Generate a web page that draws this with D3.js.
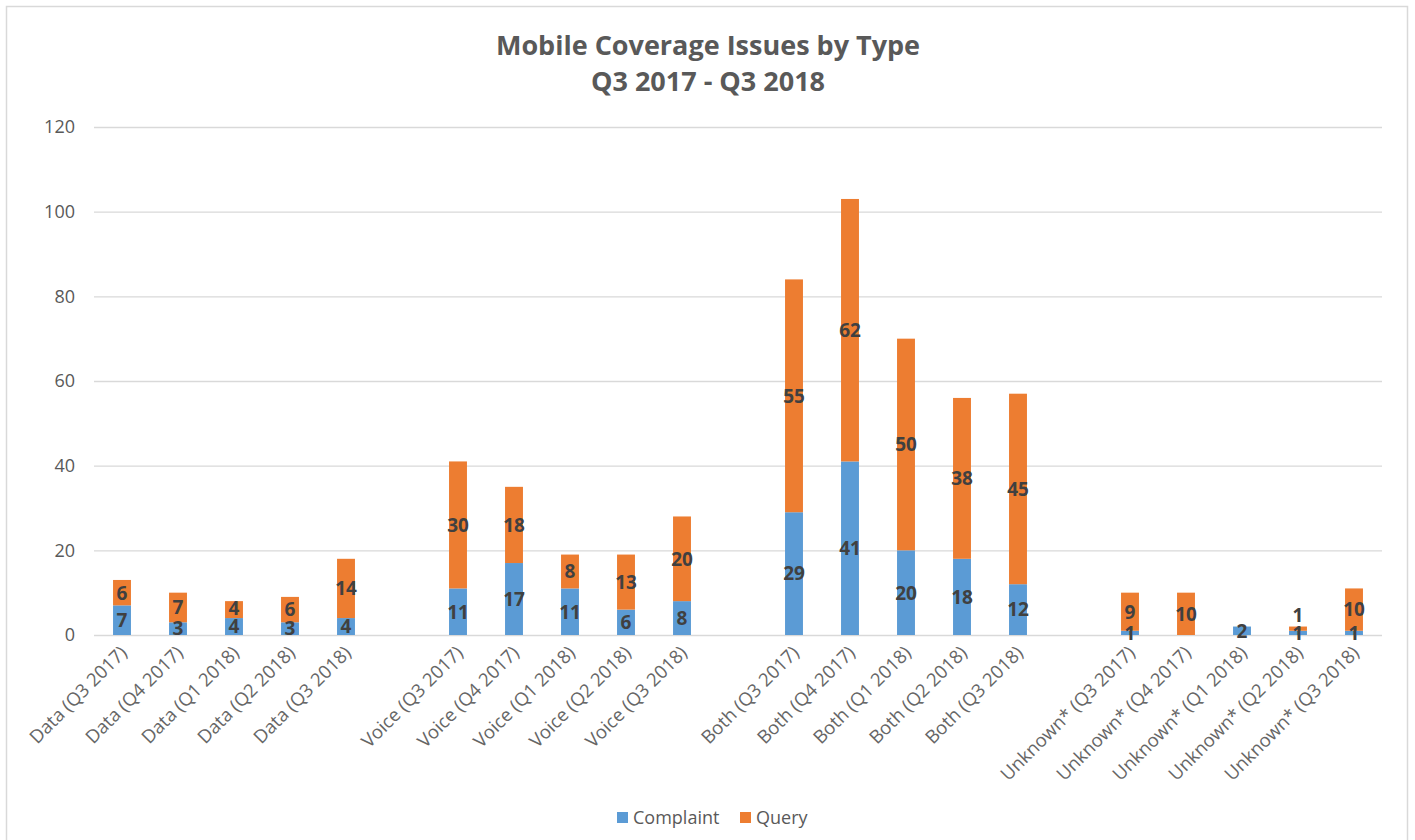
<!DOCTYPE html>
<html>
<head>
<meta charset="utf-8">
<script src="https://d3js.org/d3.v7.min.js"></script>
<style>
  body { margin: 0; background: #fff; }
  text { font-family: "Open Sans", sans-serif; }
</style>
</head>
<body>
<svg id="chart" width="1415" height="840"></svg>
<script>
  // categories, with empty slots between the groups
  const categories = [
    "Data (Q3 2017)", "Data (Q4 2017)", "Data (Q1 2018)", "Data (Q2 2018)", "Data (Q3 2018)", "",
    "Voice (Q3 2017)", "Voice (Q4 2017)", "Voice (Q1 2018)", "Voice (Q2 2018)", "Voice (Q3 2018)", "",
    "Both (Q3 2017)", "Both (Q4 2017)", "Both (Q1 2018)", "Both (Q2 2018)", "Both (Q3 2018)", "",
    "Unknown* (Q3 2017)", "Unknown* (Q4 2017)", "Unknown* (Q1 2018)", "Unknown* (Q2 2018)", "Unknown* (Q3 2018)"
  ]
  const complaint = [7, 3, 4, 3, 4, null, 11, 17, 11, 6, 8, null, 29, 41, 20, 18, 12, null, 1, 0, 2, 1, 1]
  const query = [6, 7, 4, 6, 14, null, 30, 18, 8, 13, 20, null, 55, 62, 50, 38, 45, null, 9, 10, 0, 1, 10]
  const yTicks = [0, 20, 40, 60, 80, 100, 120]
  const seriesNames = ["Complaint", "Query"]
  const colors = ["#5B9BD5", "#ED7D31"]

  const svg = d3.select("#chart")

  // chart border
  svg.append("rect")
    .attr("x", 6.5).attr("y", 6.5)
    .attr("width", 1401).attr("height", 850)
    .attr("fill", "none").attr("stroke", "#d9d9d9").attr("stroke-width", 1.5)

  // title
  svg.append("text")
    .attr("x", 708).attr("y", 55)
    .attr("text-anchor", "middle")
    .attr("font-size", 27).attr("font-weight", "bold").attr("fill", "#595959")
    .text("Mobile Coverage Issues by Type")
  svg.append("text")
    .attr("x", 708).attr("y", 91)
    .attr("text-anchor", "middle")
    .attr("font-size", 27).attr("font-weight", "bold").attr("fill", "#595959")
    .text("Q3 2017 - Q3 2018")

  const xs = d3.scaleBand()
    .domain(d3.range(categories.length))
    .range([94, 1382])
    .paddingInner(0.68)
    .paddingOuter(0.34)
  const ys = d3.scaleLinear().domain([0, 120]).range([635, 127])

  // gridlines
  svg.append("g")
    .selectAll("line")
    .data(yTicks)
    .enter()
    .append("line")
    .attr("x1", 94).attr("x2", 1382)
    .attr("y1", d => ys(d) + 0.5).attr("y2", d => ys(d) + 0.5)
    .attr("stroke", "#d9d9d9").attr("stroke-width", 1.3)

  // y axis labels
  const yAxis = svg.append("g")
    .attr("transform", "translate(80,0)")
    .call(d3.axisLeft(ys).tickValues(yTicks).tickSize(0).tickPadding(0))
  yAxis.select(".domain").remove()
  yAxis.selectAll("text")
    .attr("font-family", "Open Sans").attr("font-size", 18).attr("fill", "#595959")
    .attr("dx", -5)

  // x axis labels
  const xAxis = svg.append("g")
    .attr("transform", "translate(0,635)")
    .call(d3.axisBottom(xs).tickFormat(i => categories[i]).tickSize(0))
  xAxis.select(".domain").remove()
  xAxis.selectAll("text")
    .attr("font-family", "Open Sans").attr("font-size", 18.5).attr("fill", "#666")
    .attr("text-anchor", "end")
    .attr("y", 0).attr("dy", 0)
    .attr("transform", "translate(6,19) rotate(-45)")

  // stacked bars
  const rows = categories.map((c, i) => ({ i: i, c: complaint[i], q: query[i] }))
    .filter(d => d.c !== null)

  const bars = svg.append("g")
  bars.selectAll(".complaint")
    .data(rows)
    .enter()
    .append("rect")
    .attr("x", d => xs(d.i))
    .attr("width", xs.bandwidth())
    .attr("y", d => ys(d.c))
    .attr("height", d => ys(0) - ys(d.c))
    .attr("fill", colors[0])
  bars.selectAll(".query")
    .data(rows)
    .enter()
    .append("rect")
    .attr("x", d => xs(d.i))
    .attr("width", xs.bandwidth())
    .attr("y", d => ys(d.c + d.q))
    .attr("height", d => ys(d.c) - ys(d.c + d.q))
    .attr("fill", colors[1])

  // data labels, centred in each segment (query pushed up if it would overlap)
  const labels = svg.append("g")
    .attr("font-size", 19).attr("font-weight", "bold").attr("fill", "#404040")
    .attr("text-anchor", "middle")
  rows.forEach(d => {
    const cx = xs(d.i) + xs.bandwidth() / 2
    let cy = (ys(0) + ys(d.c)) / 2
    if (d.c > 0) {
      labels.append("text").attr("x", cx).attr("y", cy).attr("dy", "0.36em").text(d.c)
    }
    if (d.q > 0) {
      let qy = (ys(d.c) + ys(d.c + d.q)) / 2
      if (d.c > 0) qy = Math.min(qy, cy - 18)
      labels.append("text").attr("x", cx).attr("y", qy).attr("dy", "0.36em").text(d.q)
    }
  })

  // legend
  const legend = svg.append("g").attr("transform", "translate(617,812)")
  const legendX = [0, 123]
  seriesNames.forEach((name, k) => {
    legend.append("rect")
      .attr("x", legendX[k]).attr("y", 0)
      .attr("width", 11).attr("height", 11)
      .attr("fill", colors[k])
    legend.append("text")
      .attr("x", legendX[k] + 16).attr("y", 6)
      .attr("dy", "0.36em")
      .attr("font-size", 18).attr("fill", "#595959")
      .text(name)
  })
</script>
</body>
</html>
